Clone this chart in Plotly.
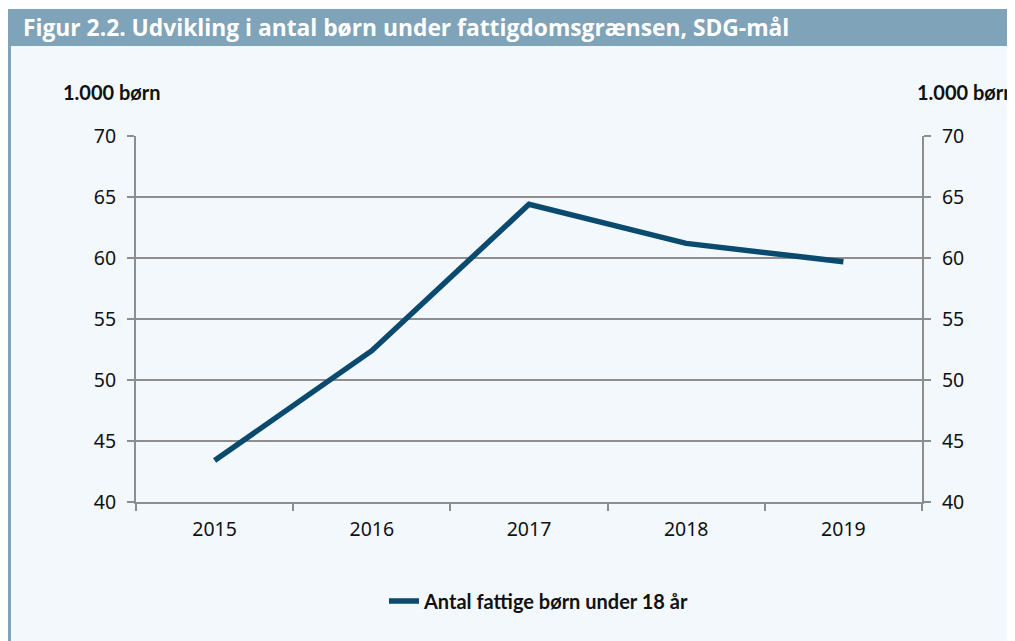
import plotly.graph_objects as go

years = ["2015", "2016", "2017", "2018", "2019"]
children = [43.4, 52.4, 64.4, 61.2, 59.7]
series_name = "Antal fattige børn under 18 år"
title_text = "Figur 2.2. Udvikling i antal børn under fattigdomsgrænsen, SDG-mål"
unit_label = "1.000 børn"
y_ticks = [40, 45, 50, 55, 60, 65, 70]

W, H = 1015, 641
OFF = 8  # page body margin
def px(x): return (x - OFF) / W
def py(y): return 1 - (y - OFF) / H

GRID = "#8e8e8e"
LINE = "#0b4a6f"
BG = "#f3f8fc"
BAR = "#7fa3b8"
FONT = "Lato"
TICKFONT = dict(family="Noto Sans", size=19.5, color="#111")

fig = go.Figure()
fig.add_trace(go.Scatter(x=years, y=children, mode="lines", name=series_name,
                         line=dict(color=LINE, width=5.5)))
fig.add_trace(go.Scatter(x=years, y=children, mode="lines", yaxis="y2",
                         line=dict(width=0), showlegend=False, hoverinfo="skip"))

axis_common = dict(range=[40, 70], tickvals=y_ticks, ticks="outside", ticklen=7,
                   tickcolor=GRID, tickwidth=2, showline=True, linecolor=GRID, linewidth=2,
                   tickfont=TICKFONT, zeroline=False, automargin=False,
                   ticklabelstandoff=7)

fig.update_layout(
    width=W, height=H,
    margin=dict(l=0, r=0, t=0, b=0, autoexpand=False),
    paper_bgcolor="white",
    plot_bgcolor="rgba(0,0,0,0)",
    xaxis=dict(domain=[px(136), px(922)], type="category", range=[-0.5, 4.5],
               ticks="outside", tickson="boundaries", ticklen=7, tickcolor=GRID, tickwidth=2,
               showline=True, linecolor=GRID, linewidth=2, showgrid=False,
               tickfont=TICKFONT, automargin=False, ticklabelstandoff=9),
    yaxis=dict(domain=[py(502), py(136)], showgrid=True, gridcolor=GRID, gridwidth=1.5,
               side="left", **axis_common),
    yaxis2=dict(overlaying="y", side="right", showgrid=False, anchor="x", **axis_common),
    showlegend=True,
    legend=dict(orientation="h", x=px(539), xanchor="center", y=py(601), yanchor="middle",
                bgcolor="rgba(0,0,0,0)",
                font=dict(family=FONT, size=20, color="#111", weight="bold")),
    shapes=[
        dict(type="rect", xref="paper", yref="paper", x0=px(7), x1=px(1030), y0=py(46), y1=py(9),
             fillcolor=BAR, line=dict(width=0), layer="below"),
        dict(type="rect", xref="paper", yref="paper", x0=px(11), x1=px(1030), y0=py(660), y1=py(46),
             fillcolor=BG, line=dict(width=0), layer="below"),
        dict(type="rect", xref="paper", yref="paper", x0=px(7), x1=px(11), y0=py(660), y1=py(46),
             fillcolor=BAR, line=dict(width=0), layer="below"),
    ],
    annotations=[
        dict(text="<b>" + title_text + "</b>", xref="paper", yref="paper", x=px(21), y=py(28),
             xanchor="left", yanchor="middle", showarrow=False,
             font=dict(family="Open Sans", size=22.8, color="white")),
        dict(text="<b>" + unit_label + "</b>", xref="paper", yref="paper", x=px(61), y=py(92),
             xanchor="left", yanchor="middle", showarrow=False,
             font=dict(family=FONT, size=20, color="#111")),
        dict(text="<b>" + unit_label + "</b>", xref="paper", yref="paper", x=px(915), y=py(92),
             xanchor="left", yanchor="middle", showarrow=False,
             font=dict(family=FONT, size=20, color="#111")),
    ],
)

fig.write_html("out.html")
